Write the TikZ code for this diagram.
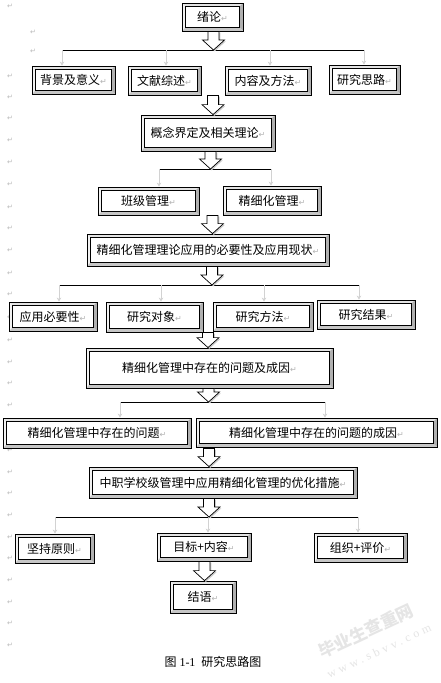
\documentclass[tikz,border=0pt]{standalone}
\usepackage{fontspec}
\setmainfont{Liberation Serif}
\newfontfamily\cjk{Noto Sans CJK SC}
\newfontfamily\dejavu{DejaVu Sans}
\newfontfamily\wmfont[LetterSpace=30]{Liberation Serif}
\usetikzlibrary{arrows.meta,calc}
\newcommand\pmk{{\dejavu\fontsize{8}{8}\selectfont\textcolor{gray!60}{↵}}}
\tikzset{
  bevtop/.style={fill=gray!22},
  bevleft/.style={fill=gray!10},
  bevright/.style={fill=gray!62},
  bevbot/.style={fill=gray!45},
  bevel/.style={draw=black, line width=0.8pt, fill=white, inner sep=0pt,
    font=\cjk\fontsize{12}{12}\selectfont,
    path picture={
      \def\bw{3.8pt}
      \path (path picture bounding box.north west) coordinate (ppnw)
            (path picture bounding box.north east) coordinate (ppne)
            (path picture bounding box.south west) coordinate (ppsw)
            (path picture bounding box.south east) coordinate (ppse);
      \fill[bevtop] (ppnw) -- (ppne) -- ([xshift=-\bw,yshift=-\bw]ppne) -- ([xshift=\bw,yshift=-\bw]ppnw) -- cycle;
      \fill[bevleft] (ppnw) -- (ppsw) -- ([xshift=\bw,yshift=\bw]ppsw) -- ([xshift=\bw,yshift=-\bw]ppnw) -- cycle;
      \fill[bevright] (ppne) -- (ppse) -- ([xshift=-\bw,yshift=\bw]ppse) -- ([xshift=-\bw,yshift=-\bw]ppne) -- cycle;
      \fill[bevbot] (ppsw) -- (ppse) -- ([xshift=-\bw,yshift=\bw]ppse) -- ([xshift=\bw,yshift=\bw]ppsw) -- cycle;
      \draw[line width=0.75pt] ([xshift=\bw,yshift=-\bw]ppnw) rectangle ([xshift=-\bw,yshift=\bw]ppse);
    }},
  bus/.style={draw=black, line width=0.8pt},
  drop/.style={draw=gray!35, line width=0.7pt, -{Stealth[length=4pt,width=4.5pt]}},
  blockarrow/.style={draw=black, line width=0.7pt, fill=white, line join=miter},
  arrowshadow/.style={fill=gray!40},
  lmark/.style={inner sep=0pt, font=\dejavu\fontsize{7}{7}\selectfont, text=gray!55},
  caption/.style={inner sep=0pt, font=\fontsize{12}{12}\selectfont},
  wmark/.style={inner sep=0pt, text=gray!20, rotate=25}
}
\newcommand\bx[6]{\node[bevel,minimum width={(#4-#2)*1pt},minimum height={(#5-#3)*1pt}] (#1) at ({(#2+#4)/2},{(#3+#5)/2}) {#6\pmk};}
\newcommand\bapath[2]{([xshift=#1-5.5pt,yshift=#2]bas) -- ([xshift=#1+5.5pt,yshift=#2]bas) -- ([xshift=#1+5.5pt,yshift=#2+10pt]bat) -- ([xshift=#1+11pt,yshift=#2+10pt]bat) -- ([xshift=#1,yshift=#2]bat) -- ([xshift=#1-11pt,yshift=#2+10pt]bat) -- ([xshift=#1-5.5pt,yshift=#2+10pt]bat) -- cycle}
\newcommand\barrow[2]{%
  \path #1 coordinate (bas) #2 coordinate (bat);
  \fill[arrowshadow] \bapath{1.3pt}{-1.3pt};
  \filldraw[blockarrow] \bapath{0pt}{0pt};
}
\begin{document}
\begin{tikzpicture}[x=1pt,y=-1pt]
\fill[white] (0,0) rectangle (441,683);
\useasboundingbox (0,0) rectangle (441,683);

% watermark (behind everything)
\node[wmark, font=\cjk\bfseries\fontsize{17}{17}\selectfont] (wm1) at (366,631) {毕业生查重网};
\node[wmark, font=\wmfont\fontsize{12}{12}\selectfont] (wm2) at (379,651) {www.sbvv.com};

% paragraph marks in the left margin
\node[lmark] (lm0) at (10,6) {↵};
\node[lmark] (lma) at (33,32) {↵};
\node[lmark] (lmb) at (33,51) {↵};
\foreach \yy [count=\i] in {76,97,118,140,162,184,207,228,250,273,294,317,340,362,383,405,427,450,472,493,515,537,558,580,602,623,645}
  \node[lmark] (lm\i) at (10,\yy) {↵};

% boxes
\bx{xulun}{182}{3}{243}{31}{绪论}
\bx{bg}{32}{66}{115}{94}{背景及意义}
\bx{wx}{128}{66}{201}{95}{文献综述}
\bx{nr}{225}{66}{311}{95}{内容及方法}
\bx{sl}{329}{65}{400}{94}{研究思路}
\bx{gn}{141}{115}{275}{151}{概念界定及相关理论}
\bx{bj}{98}{187}{199}{215}{班级管理}
\bx{jx}{223}{186}{321}{215}{精细化管理}
\bx{yy}{87}{234}{329}{266}{精细化管理理论应用的必要性及应用现状}
\bx{by}{9}{302}{97}{331}{应用必要性}
\bx{dx}{106}{302}{203}{332}{研究对象}
\bx{ff}{213}{302}{313}{331}{研究方法}
\bx{jg}{317}{300}{415}{329}{研究结果}
\bx{wt}{86}{348}{333}{388}{精细化管理中存在的问题及成因}
\bx{wa}{3}{418}{191}{448}{精细化管理中存在的问题}
\bx{wb}{196}{418}{437}{447}{精细化管理中存在的问题的成因}
\bx{cs}{89}{467}{357}{498}{中职学校级管理中应用精细化管理的优化措施}
\bx{jc}{15}{534}{94}{563}{坚持原则}
\bx{mb}{157}{533}{251}{561}{目标+内容}
\bx{zz}{314}{533}{407}{562}{组织+评价}
\bx{jy}{170}{581}{236}{613}{结语}

% buses and drops
\coordinate (d1a) at (62,50);  \coordinate (d1b) at (166,50);
\coordinate (d1c) at (270,50); \coordinate (d1d) at (364,50);
\draw[bus] (d1a) -- (d1d);
\draw[drop] (d1a) -- (d1a |- bg.north);
\draw[drop] (d1b) -- (d1b |- wx.north);
\draw[drop] (d1c) -- (d1c |- nr.north);
\draw[drop] (d1d) -- (d1d |- sl.north);

\coordinate (d2a) at (159,169); \coordinate (d2b) at (271,169);
\draw[bus] (d2a) -- (d2b);
\draw[drop] (d2a) -- (d2a |- bj.north);
\draw[drop] (d2b) -- (d2b |- jx.north);

\coordinate (d3a) at (59,285);  \coordinate (d3b) at (161,285);
\coordinate (d3c) at (264,285); \coordinate (d3d) at (359,285);
\draw[bus] (d3a) -- (d3d);
\draw[drop] (d3a) -- (d3a |- by.north);
\draw[drop] (d3b) -- (d3b |- dx.north);
\draw[drop] (d3c) -- (d3c |- ff.north);
\draw[drop] (d3d) -- (d3d |- jg.north);

\coordinate (d4a) at (120,402); \coordinate (d4b) at (325,402);
\draw[bus] (d4a) -- (d4b);
\draw[drop] (d4a) -- (d4a |- wa.north);
\draw[drop] (d4b) -- (d4b |- wb.north);

\coordinate (d5a) at (55,517); \coordinate (d5b) at (208,517); \coordinate (d5c) at (358,517);
\draw[bus] (d5a) -- (d5c);
\draw[drop] (d5a) -- (d5a |- jc.north);
\draw[drop] (d5b) -- (d5b |- mb.north);
\draw[drop] (d5c) -- (d5c |- zz.north);

% block arrows
\coordinate (ax1) at (213.5,0);
\coordinate (ax2) at (213,0);
\coordinate (ax3) at (210.5,0);
\coordinate (ax4) at (212.5,0);
\coordinate (ax5) at (212,0);
\coordinate (ax6) at (208,0);
\coordinate (ax7) at (208.5,0);
\coordinate (ax8) at (209,0);
\coordinate (ax9) at (209,0);
\coordinate (ax10) at (204.5,0);
\barrow{(ax1 |- xulun.south)}{(ax1 |- d1a)}
\barrow{(ax2 |- wx.south)}{(ax2 |- gn.north)}
\barrow{(ax3 |- gn.south)}{(ax3 |- d2a)}
\barrow{(ax4 |- bj.south)}{(ax4 |- yy.north)}
\barrow{(ax5 |- yy.south)}{(ax5 |- d3a)}
\barrow{(ax6 |- dx.south)}{(ax6 |- wt.north)}
\barrow{(ax7 |- wt.south)}{(ax7 |- d4a)}
\barrow{(ax8 |- wa.south)}{(ax8 |- cs.north)}
\barrow{(ax9 |- cs.south)}{(ax9 |- d5a)}
\barrow{(ax10 |- mb.south)}{(ax10 |- jy.north)}

% caption
\node[caption] (cap) at (213,662) {{\cjk 图} 1-1\ \ {\cjk 研究思路图}};
\end{tikzpicture}
\end{document}
